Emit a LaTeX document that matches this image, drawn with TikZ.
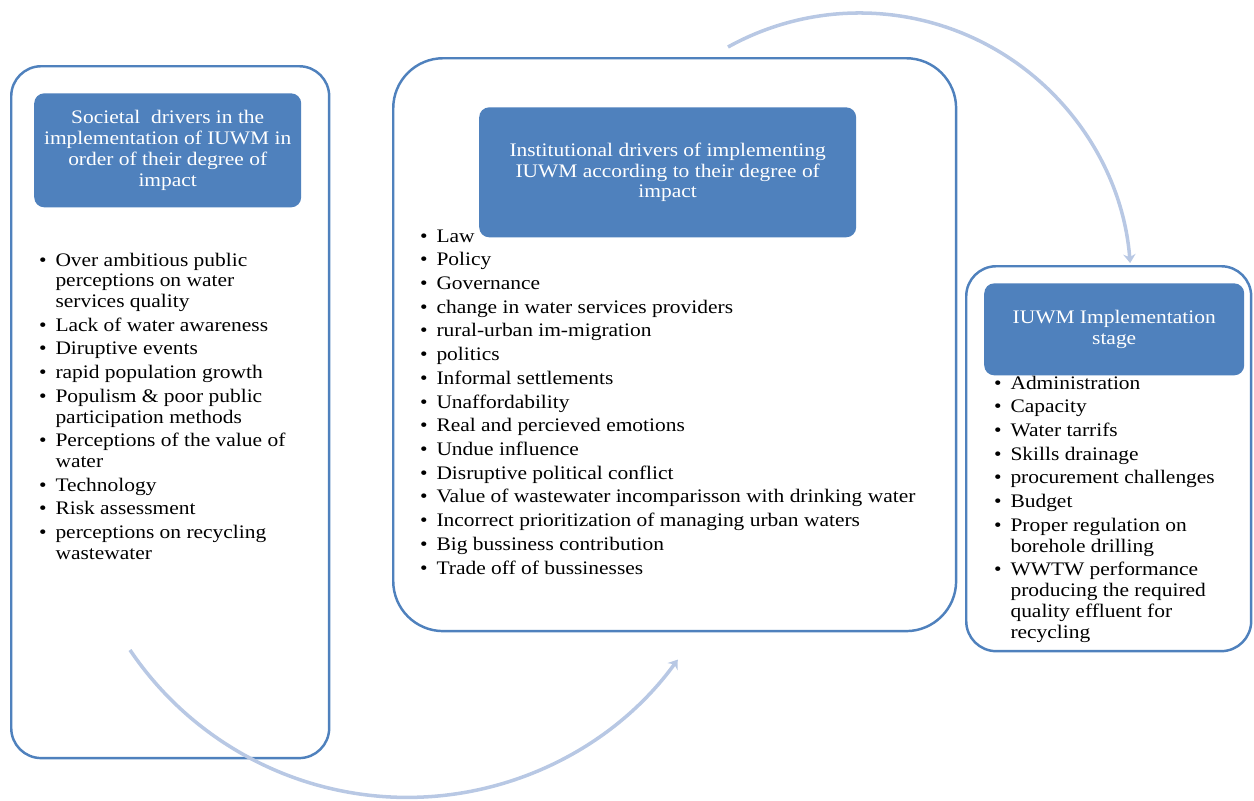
\documentclass[tikz,border=0pt]{standalone}
\usepackage{fontspec}
\setmainfont{Liberation Serif}[FakeStretch=1.12]
\usepackage{tikz}
\usetikzlibrary{positioning,arrows.meta}

\definecolor{boxline}{RGB}{79,129,189}
\definecolor{headblue}{RGB}{79,129,189}
\definecolor{loopblue}{RGB}{184,200,228}

\newcommand{\listfont}{\fontsize{10.9}{11.8}\selectfont}
\newcommand{\nxt}{\\[1.7pt]}

\tikzset{
	outerbox/.style={draw=boxline, line width=1.4pt, fill=white, anchor=north west},
	headbox/.style={fill=headblue, text=white, rounded corners=0.2cm,
		align=center, font=\listfont, inner sep=0pt},
	itemlist/.style={inner sep=0pt, font=\listfont, align=left},
	cyclearrow/.style={draw=loopblue, line width=2pt, -{Stealth[length=5pt,width=7pt]}}
}

\begin{document}
\begin{tikzpicture}[x=0.02cm, y=-0.02cm]

\useasboundingbox (0,0) rectangle (1254,801);

% Outer boxes
\node [outerbox,
	rounded corners=0.6cm,
	minimum width=6.36cm,
	minimum height=13.84cm
] (society) at (10,65) {};

\node [outerbox,
	rounded corners=1cm,
	minimum width=11.26cm,
	minimum height=11.46cm
] (institution) at (392,57) {};

\node [outerbox,
	rounded corners=0.6cm,
	minimum width=5.7cm,
	minimum height=7.7cm
] (implement) at (965,265) {};

% Headers
\node [headbox,
	minimum width=5.34cm,
	minimum height=2.28cm,
	below=0.56cm of society.north,
	xshift=-0.05cm
] (societyhead) {Societal~ drivers in the\\implementation of IUWM in\\order of their degree of\\impact};

\node [headbox,
	minimum width=7.54cm,
	minimum height=2.6cm,
	below=1cm of institution.north,
	xshift=-0.14cm
] (institutionhead) {Institutional drivers of implementing\\IUWM according to their degree of\\impact};

\node [headbox,
	minimum width=5.2cm,
	minimum height=1.84cm,
	below=0.36cm of implement.north,
	xshift=0.11cm
] (implementhead) {IUWM Implementation\\stage};

% Lists
\node [itemlist,
	below right=0.87cm and 0.1cm of societyhead.south west
] (societylist) {\begin{tabular}{@{}l@{\hspace{5pt}}l@{}}
\textbullet & Over ambitious public\\
 & perceptions on water\\
 & services quality\nxt
\textbullet & Lack of water awareness\nxt
\textbullet & Diruptive events\nxt
\textbullet & rapid population growth\nxt
\textbullet & Populism \& poor public\\
 & participation methods\nxt
\textbullet & Perceptions of the value of\\
 & water\nxt
\textbullet & Technology\nxt
\textbullet & Risk assessment\nxt
\textbullet & perceptions on recycling\\
 & wastewater
\end{tabular}};

\node [itemlist,
	below right=-0.21cm and -1.18cm of institutionhead.south west
] (institutionlist) {\begin{tabular}{@{}l@{\hspace{5pt}}l@{}}
\textbullet & Law\nxt
\textbullet & Policy\nxt
\textbullet & Governance\nxt
\textbullet & change in water services providers\nxt
\textbullet & rural-urban im-migration\nxt
\textbullet & politics\nxt
\textbullet & Informal settlements\nxt
\textbullet & Unaffordability\nxt
\textbullet & Real and percieved emotions\nxt
\textbullet & Undue influence\nxt
\textbullet & Disruptive political conflict\nxt
\textbullet & Value of wastewater incomparisson with drinking water\nxt
\textbullet & Incorrect prioritization of managing urban waters\nxt
\textbullet & Big bussiness contribution\nxt
\textbullet & Trade off of bussinesses
\end{tabular}};

\node [itemlist,
	below right=-0.03cm and 0.2cm of implementhead.south west
] (implementlist) {\begin{tabular}{@{}l@{\hspace{5pt}}l@{}}
\textbullet & Administration\nxt
\textbullet & Capacity\nxt
\textbullet & Water tarrifs\nxt
\textbullet & Skills drainage\nxt
\textbullet & procurement challenges\nxt
\textbullet & Budget\nxt
\textbullet & Proper regulation on\\
 & borehole drilling\nxt
\textbullet & WWTW performance\\
 & producing the required\\
 & quality effluent for\\
 & recycling
\end{tabular}};

% Cycle arrows
\coordinate (lowstart) at (130,650);
\coordinate (topstart) at (728,47);

\draw[cyclearrow] (lowstart) arc[start angle=146, end angle=36, radius=334.4];
\draw[cyclearrow] (topstart) arc[start angle=-119, end angle=-4.5, radius=271.4];

\end{tikzpicture}
\end{document}
